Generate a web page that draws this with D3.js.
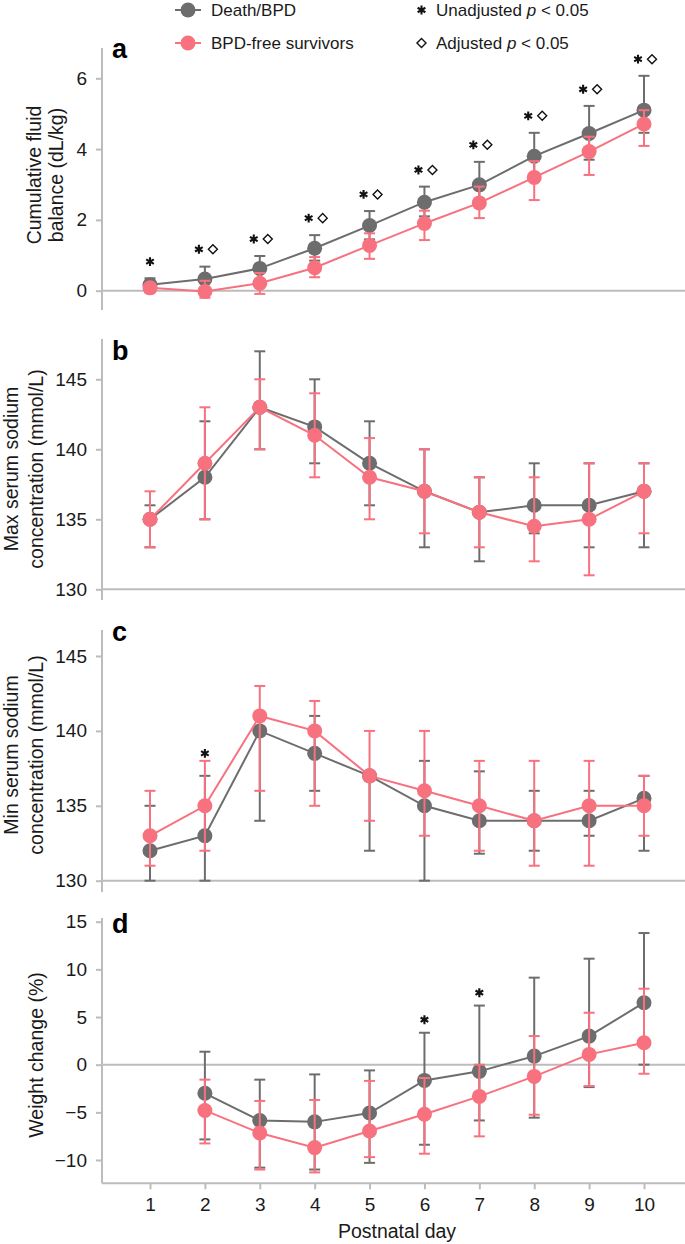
<!DOCTYPE html>
<html>
<head>
<meta charset="utf-8">
<script src="https://cdn.jsdelivr.net/npm/d3@7"></script>
<style>
  body { margin: 0; background: #fff; }
  svg { display: block; font-family: "Liberation Sans", Arial, sans-serif; }
</style>
</head>
<body>
<div id="chart"></div>
<script>
// ---- data ----
const days = [1, 2, 3, 4, 5, 6, 7, 8, 9, 10];

// a: cumulative fluid balance (dL/kg)
const fluidDeath   = [0.17, 0.33, 0.63, 1.2, 1.84, 2.5, 2.99, 3.8, 4.44, 5.1];
const fluidDeathLo = [0.0, 0.0, 0.3, 0.85, 1.45, 2.1, 2.5, 3.1, 3.7, 4.46];
const fluidDeathHi = [0.35, 0.68, 0.98, 1.57, 2.25, 2.94, 3.64, 4.46, 5.22, 6.07];
const fluidFree    = [0.08, -0.02, 0.21, 0.65, 1.28, 1.9, 2.48, 3.2, 3.93, 4.71];
const fluidFreeLo  = [-0.05, -0.2, -0.09, 0.38, 0.9, 1.43, 2.05, 2.56, 3.27, 4.09];
const fluidFreeHi  = [0.2, 0.28, 0.5, 0.95, 1.62, 2.26, 2.94, 3.66, 4.35, 5.1];
const fluidUnadj   = [0.82, 1.17, 1.46, 2.05, 2.72, 3.41, 4.12, 4.94, 5.69, 6.54];
const fluidAdj     = [null, 1.17, 1.46, 2.05, 2.72, 3.41, 4.12, 4.94, 5.69, 6.54];

// b: max serum sodium (mmol/L)
const maxNaDeath   = [135, 138, 143, 141.6, 139, 137, 135.5, 136, 136, 137];
const maxNaDeathLo = [133, 135, 140, 139, 136, 133, 132, 134, 133, 133];
const maxNaDeathHi = [136, 142, 147, 145, 142, 140, 138, 139, 139, 139];
const maxNaFree    = [135, 139, 143, 141, 138, 137, 135.5, 134.5, 135, 137];
const maxNaFreeLo  = [133, 135, 140, 138, 135, 134, 133, 132, 131, 134];
const maxNaFreeHi  = [137, 143, 145, 144, 140.8, 140, 138, 138, 139, 139];

// c: min serum sodium (mmol/L)
const minNaDeath   = [132, 133, 140, 138.5, 137, 135, 134, 134, 134, 135.5];
const minNaDeathLo = [130, 130, 134, 136, 132, 130, 131.8, 132, 133, 132];
const minNaDeathHi = [135, 137, 141, 141, 137, 138, 137.3, 136, 136, 137];
const minNaFree    = [133, 135, 141, 140, 137, 136, 135, 134, 135, 135];
const minNaFreeLo  = [131, 132, 136, 135, 134, 133, 132, 131, 131, 133];
const minNaFreeHi  = [136, 138, 143, 142, 140, 140, 138, 138, 138, 137];
const minNaUnadj   = [null, 138.5, null, null, null, null, null, null, null, null];

// d: weight change (%)
const wtDeath   = [null, -3.0, -5.85, -6.0, -5.07, -1.65, -0.7, 0.9, 3.0, 6.5];
const wtDeathLo = [null, -7.84, -10.8, -11.0, -10.3, -8.4, -5.85, -5.56, -2.35, 0.0];
const wtDeathHi = [null, 1.36, -1.57, -1.02, -0.6, 3.35, 6.2, 9.13, 11.12, 13.81];
const wtFree    = [null, -4.8, -7.17, -8.7, -6.96, -5.2, -3.33, -1.23, 1.08, 2.3];
const wtFreeLo  = [null, -8.26, -11.0, -11.3, -9.7, -9.34, -7.52, -5.25, -2.24, -0.95];
const wtFreeHi  = [null, -1.57, -3.8, -3.7, -1.7, -1.4, 0.0, 3.0, 5.45, 7.97];
const wtUnadj   = [null, null, null, null, null, 4.72, 7.55, null, null, null];

const seriesNames = ["Death/BPD", "BPD-free survivors"];
const sigNames = ["Unadjusted", "Adjusted"];

// ---- layout ----
const width = 685, height = 1244;
const axisX = 102, rightX = 685;
const gray = "#6d6d6d", pink = "#f7717f", axisColor = "#bcbcbd";
const colors = [gray, pink];

const x = d3.scaleLinear().domain([1, 10]).range([150, 644]);

const panels = [
  { label: "a", title: ["Cumulative fluid", "balance (dL/kg)"], titleX: [41, 63], titleY: 175,
    domain: [0, 6], range: [290.7, 78.3], ticks: [0, 2, 4, 6], top: 48, bottom: 310, base: 0, labelY: 58,
    series: [[fluidDeath, fluidDeathLo, fluidDeathHi], [fluidFree, fluidFreeLo, fluidFreeHi]],
    unadj: fluidUnadj, adj: fluidAdj },
  { label: "b", title: ["Max serum sodium", "concentration (mmol/L)"], titleX: [18, 43], titleY: 469,
    domain: [130, 145], range: [589.3, 379.3], ticks: [130, 135, 140, 145], top: 339, bottom: 600, base: 130, labelY: 360,
    series: [[maxNaDeath, maxNaDeathLo, maxNaDeathHi], [maxNaFree, maxNaFreeLo, maxNaFreeHi]],
    unadj: null, adj: null },
  { label: "c", title: ["Min serum sodium", "concentration (mmol/L)"], titleX: [18, 43], titleY: 755,
    domain: [130, 145], range: [880.7, 656], ticks: [130, 135, 140, 145], top: 630, bottom: 892, base: 130, labelY: 641,
    series: [[minNaDeath, minNaDeathLo, minNaDeathHi], [minNaFree, minNaFreeLo, minNaFreeHi]],
    unadj: minNaUnadj, adj: null },
  { label: "d", title: ["Weight change (%)"], titleX: [43], titleY: 1055,
    domain: [-10, 15], range: [1160, 921.7], ticks: [-10, -5, 0, 5, 10, 15], top: 918, bottom: 1183.3, base: 0, labelY: 933,
    series: [[wtDeath, wtDeathLo, wtDeathHi], [wtFree, wtFreeLo, wtFreeHi]],
    unadj: wtUnadj, adj: null }
];

const svg = d3.select("#chart").append("svg")
    .attr("width", width)
    .attr("height", height)
    .attr("viewBox", [0, 0, width, height]);

const asterisk = d3.symbol(d3.symbolAsterisk || d3.symbolCross, 55);
const diamond = d3.symbol(d3.symbolDiamond2 || d3.symbolDiamond, 52);

function drawAsterisk(g, cx, cy) {
  g.append("path")
      .attr("d", asterisk())
      .attr("transform", `translate(${cx},${cy})`)
      .attr("fill", "none")
      .attr("stroke", "#111")
      .attr("stroke-width", 2.1);
}
function drawDiamond(g, cx, cy) {
  g.append("path")
      .attr("d", diamond())
      .attr("transform", `translate(${cx},${cy})`)
      .attr("fill", "#fff")
      .attr("stroke", "#111")
      .attr("stroke-width", 1.4);
}

panels.forEach(p => {
  const y = d3.scaleLinear().domain(p.domain).range(p.range);
  const g = svg.append("g");

  // vertical axis + baseline
  g.append("line")
      .attr("x1", axisX).attr("x2", axisX)
      .attr("y1", p.top).attr("y2", p.bottom)
      .attr("stroke", axisColor).attr("stroke-width", 2);
  g.append("line")
      .attr("x1", axisX).attr("x2", rightX)
      .attr("y1", y(p.base)).attr("y2", y(p.base))
      .attr("stroke", axisColor).attr("stroke-width", 2);

  const yAxis = g.append("g")
      .attr("transform", `translate(${axisX},0)`)
      .call(d3.axisLeft(y).tickValues(p.ticks).tickSize(6).tickPadding(9).tickFormat(d3.format("d")));
  yAxis.select(".domain").remove();
  yAxis.selectAll(".tick line").attr("stroke", axisColor).attr("stroke-width", 2);
  yAxis.selectAll(".tick text")
      .attr("font-size", 19)
      .attr("font-family", "Liberation Sans, Arial, sans-serif")
      .attr("fill", "#1a1a1a")
      .text(d => d < 0 ? "\u2212" + Math.abs(d) : d);

  // axis title
  p.title.forEach((t, i) => {
    g.append("text")
        .attr("transform", `translate(${p.titleX[i]},${p.titleY}) rotate(-90)`)
        .attr("text-anchor", "middle")
        .attr("font-size", 19.5)
        .attr("fill", "#1a1a1a")
        .text(t);
  });

  // panel letter
  g.append("text")
      .attr("x", 112).attr("y", p.labelY)
      .attr("font-size", 27).attr("font-weight", "bold")
      .attr("fill", "#000")
      .text(p.label);

  // series: gray first, pink on top
  p.series.forEach(([mean, lo, hi], si) => {
    const pts = days.map((d, i) => ({ day: d, v: mean[i], lo: lo[i], hi: hi[i] }))
        .filter(d => d.v != null);
    const c = colors[si];
    const sg = g.append("g");

    sg.append("path")
        .datum(pts)
        .attr("fill", "none")
        .attr("stroke", c)
        .attr("stroke-width", 2)
        .attr("d", d3.line().x(d => x(d.day)).y(d => y(d.v)));

    const err = sg.selectAll("g.err").data(pts).join("g").attr("class", "err")
        .attr("stroke", c).attr("stroke-width", 2);
    err.append("line")
        .attr("x1", d => x(d.day)).attr("x2", d => x(d.day))
        .attr("y1", d => y(d.lo)).attr("y2", d => y(d.hi));
    err.append("line")
        .attr("x1", d => x(d.day) - 5.5).attr("x2", d => x(d.day) + 5.5)
        .attr("y1", d => y(d.lo)).attr("y2", d => y(d.lo));
    err.append("line")
        .attr("x1", d => x(d.day) - 5.5).attr("x2", d => x(d.day) + 5.5)
        .attr("y1", d => y(d.hi)).attr("y2", d => y(d.hi));

    sg.selectAll("circle").data(pts).join("circle")
        .attr("cx", d => x(d.day))
        .attr("cy", d => y(d.v))
        .attr("r", 7.5)
        .attr("fill", c);
  });

  // significance markers
  days.forEach((d, i) => {
    const u = p.unadj ? p.unadj[i] : null;
    const a = p.adj ? p.adj[i] : null;
    if (u != null) drawAsterisk(g, a != null ? x(d) - 6 : x(d), y(u));
    if (a != null) drawDiamond(g, x(d) + 8, y(a));
  });

  // bottom x axis on the last panel
  if (p.label === "d") {
    g.append("line")
        .attr("x1", axisX).attr("x2", rightX)
        .attr("y1", p.bottom).attr("y2", p.bottom)
        .attr("stroke", axisColor).attr("stroke-width", 2);
    const xAxis = g.append("g")
        .attr("transform", `translate(0,${p.bottom})`)
        .call(d3.axisBottom(x).tickValues(days).tickSize(6).tickPadding(8));
    xAxis.select(".domain").remove();
    xAxis.selectAll(".tick line").attr("stroke", axisColor).attr("stroke-width", 2);
    xAxis.selectAll(".tick text")
        .attr("font-size", 19)
        .attr("font-family", "Liberation Sans, Arial, sans-serif")
        .attr("fill", "#1a1a1a");
    g.append("text")
        .attr("x", x(5.5)).attr("y", 1238)
        .attr("text-anchor", "middle")
        .attr("font-size", 19.5)
        .attr("fill", "#1a1a1a")
        .text("Postnatal day");
  }
});

// legend
const legend = svg.append("g");
seriesNames.forEach((name, i) => {
  const ly = 10 + i * 33;
  legend.append("line")
      .attr("x1", 175).attr("x2", 201).attr("y1", ly).attr("y2", ly)
      .attr("stroke", colors[i]).attr("stroke-width", 2);
  legend.append("circle")
      .attr("cx", 188).attr("cy", ly).attr("r", 7.5).attr("fill", colors[i]);
  legend.append("text")
      .attr("x", 211).attr("y", ly + 6)
      .attr("font-size", 17).attr("fill", "#1a1a1a")
      .text(name);
});
sigNames.forEach((name, i) => {
  const ly = 10 + i * 33;
  if (i === 0) drawAsterisk(legend, 421.5, ly);
  else drawDiamond(legend, 421.5, ly);
  const t = legend.append("text")
      .attr("x", 436).attr("y", ly + 6)
      .attr("font-size", 17).attr("fill", "#1a1a1a");
  t.append("tspan").text(name + " ");
  t.append("tspan").attr("font-style", "italic").text("p");
  t.append("tspan").text(" < 0.05");
});
</script>
</body>
</html>
